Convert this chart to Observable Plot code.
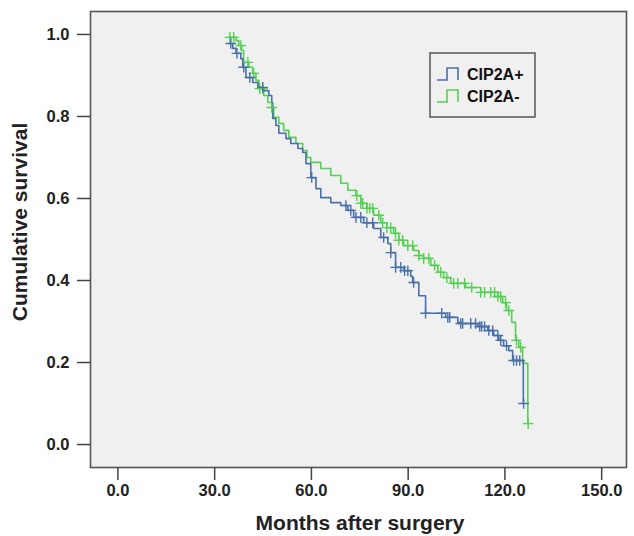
<!DOCTYPE html>
<html><head><meta charset="utf-8">
<script src="https://cdn.jsdelivr.net/npm/d3@7"></script>
<script src="https://cdn.jsdelivr.net/npm/@observablehq/plot@0.6"></script>
<style>body{margin:0;background:#fff} svg{display:block}</style>
</head><body><div id="chart"></div>
<script>
const seriesNames = ["CIP2A+", "CIP2A-"];
const seriesColors = ["#4a70a8", "#55d055"];
const xTicks = [0, 30, 60, 90, 120, 150];
const yTicks = [0, 0.2, 0.4, 0.6, 0.8, 1.0];

// CIP2A+ step points (months, cumulative survival)
const posTime = [34.4,35.6,36.6,38.1,38.7,39.7,41.8,43.4,45.2,46.8,47.7,48.0,49.0,49.9,52.1,53.6,55.8,57.3,58.3,59.8,61.4,62.9,66.0,69.1,71.3,73.1,76.2,79.3,81.5,83.7,84.6,86.1,88.6,90.8,91.4,93.3,95.4,101.6,105.4,106.3,111.6,114.7,116.5,118.1,119.6,121.2,122.4,125.7];
const posSurv = [0.978,0.966,0.954,0.941,0.920,0.895,0.883,0.871,0.863,0.851,0.834,0.795,0.778,0.759,0.746,0.734,0.722,0.712,0.685,0.651,0.624,0.602,0.590,0.583,0.571,0.554,0.541,0.527,0.505,0.490,0.468,0.432,0.424,0.410,0.395,0.363,0.320,0.310,0.298,0.295,0.288,0.278,0.266,0.254,0.241,0.229,0.205,0.100];
const posCensor = [35.0,36.9,39.0,40.9,44.9,60.1,70.7,72.2,73.8,75.3,77.2,79.0,82.4,84.6,86.1,87.7,88.9,89.9,91.7,95.4,100.4,102.3,102.9,106.3,106.9,109.4,110.9,112.2,112.8,113.7,115.0,116.2,117.8,118.7,120.5,122.7,123.6,124.6,125.8];

// CIP2A- step points
const negTime = [34.4,36.6,37.5,38.4,39.0,40.6,41.8,42.8,43.7,45.2,46.5,47.7,48.3,49.9,51.4,53.0,55.2,57.3,58.6,59.8,62.9,66.0,69.1,71.3,73.8,75.3,77.2,79.3,81.5,83.4,85.5,87.1,88.6,91.7,93.3,94.8,97.0,99.2,101.0,103.2,107.8,112.5,117.8,119.3,120.5,122.1,123.3,124.3,125.5,127.1];
const negSurv = [0.993,0.985,0.973,0.961,0.932,0.920,0.905,0.888,0.868,0.851,0.834,0.822,0.798,0.783,0.766,0.749,0.734,0.717,0.700,0.688,0.673,0.656,0.637,0.620,0.607,0.588,0.576,0.559,0.541,0.529,0.515,0.498,0.485,0.473,0.461,0.454,0.437,0.420,0.407,0.393,0.383,0.371,0.361,0.346,0.327,0.298,0.254,0.237,0.198,0.051];
const negCensor = [34.7,35.9,38.1,40.3,42.1,44.0,44.9,47.7,74.1,75.3,75.9,77.2,78.1,79.0,80.9,82.1,83.4,84.6,86.1,87.1,88.3,89.9,91.4,93.3,94.8,96.4,98.2,100.1,102.0,104.1,105.4,107.5,109.7,112.5,113.7,115.6,116.8,117.8,118.7,120.2,121.2,123.6,124.9,127.2];

function steps(T, S, name) { return T.map((t, i) => ({t, s: S[i], name})); }
function censors(C, T, S, name) {
  return C.map(c => {
    let v = S[0];
    for (let i = 0; i < T.length; i++) if (T[i] <= c) v = S[i];
    return {t: c, s: v, name};
  });
}
const posSteps = steps(posTime, posSurv, seriesNames[0]);
const negSteps = steps(negTime, negSurv, seriesNames[1]);
const posC = censors(posCensor, posTime, posSurv, seriesNames[0]);
const negC = censors(negCensor, negTime, negSurv, seriesNames[1]);

const font = "'Liberation Sans', Arial, sans-serif";
const chart = Plot.plot({
  width: 634, height: 536,
  marginLeft: 90, marginRight: 8, marginTop: 11, marginBottom: 69,
  style: {fontFamily: font, background: "#fff", color: "#222"},
  x: {domain: [-8.5, 157.7]},
  y: {domain: [-0.056, 1.056]},
  marks: [
    Plot.frame({fill: "#f0f0f0"}),
    Plot.line(negSteps, {x: "t", y: "s", curve: "step-after", stroke: seriesColors[1], strokeWidth: 1.6}),
    Plot.line(posSteps, {x: "t", y: "s", curve: "step-after", stroke: seriesColors[0], strokeWidth: 1.6}),
    Plot.dot(negC, {x: "t", y: "s", symbol: "plus", r: 3.5, stroke: seriesColors[1], strokeWidth: 1.4}),
    Plot.dot(posC, {x: "t", y: "s", symbol: "plus", r: 3.5, stroke: seriesColors[0], strokeWidth: 1.4}),
    Plot.frame({stroke: "#555", strokeWidth: 1.6}),
    Plot.axisX({ticks: xTicks, tickFormat: d => d.toFixed(1), tickSize: 13, tickPadding: 4, stroke: "#444", strokeWidth: 1.5, label: null}),
    Plot.axisY({ticks: yTicks, tickFormat: d => d.toFixed(1), tickSize: 13, tickPadding: 8, stroke: "#444", strokeWidth: 1.5, label: null})
  ]
});
document.getElementById("chart").appendChild(chart);

const svg = d3.select(chart);
// enlarge and embolden the axis tick labels
svg.selectAll("text").style("font-size", "16.5px").style("font-weight", "bold").style("fill", "#222");

svg.append("text").attr("x", 360).attr("y", 530).attr("text-anchor", "middle")
  .attr("font-family", font).attr("font-weight", "bold").attr("font-size", 21).attr("fill", "#222")
  .text("Months after surgery");
svg.append("text").attr("transform", "translate(27,222) rotate(-90)").attr("text-anchor", "middle")
  .attr("font-family", font).attr("font-weight", "bold").attr("font-size", 21).attr("fill", "#222")
  .text("Cumulative survival");

const lg = svg.append("g");
lg.append("rect").attr("x", 430).attr("y", 53).attr("width", 105).attr("height", 64)
  .attr("fill", "#f0f0f0").attr("stroke", "#555").attr("stroke-width", 1.5);
seriesNames.forEach((n, i) => {
  const y = 74 + i * 22;
  lg.append("path").attr("d", `M437,${y+6}H447V${y-6}H458V${y+6}`).attr("fill", "none")
    .attr("stroke", seriesColors[i]).attr("stroke-width", 1.6);
  lg.append("text").attr("x", 467).attr("y", y).attr("dy", "0.35em").attr("text-anchor", "start")
    .attr("font-family", font).attr("font-weight", "bold").attr("font-size", 16).attr("fill", "#111").text(n);
});
</script></body></html>
